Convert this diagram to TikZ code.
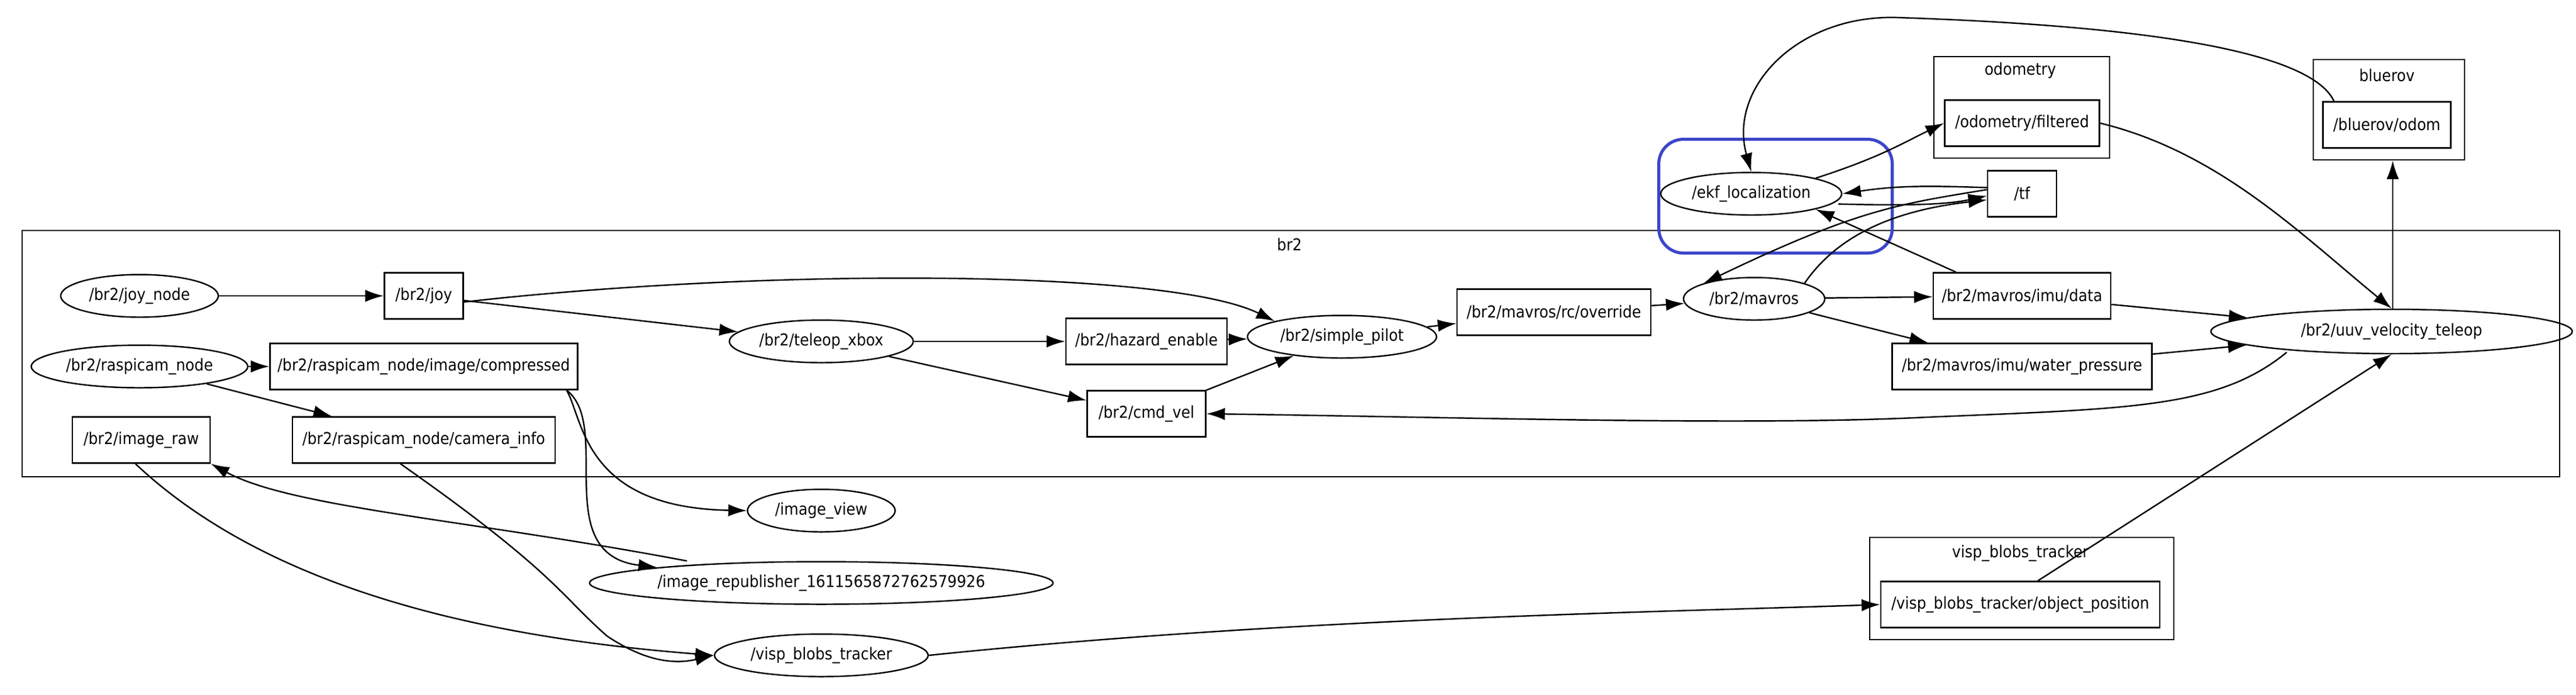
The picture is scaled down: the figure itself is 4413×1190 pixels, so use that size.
\documentclass[tikz,border=0pt]{standalone}
\usepackage{fontspec}
\setmainfont{DejaVu Sans Condensed}
\usetikzlibrary{arrows.meta,shapes.geometric}
\definecolor{ekfblue}{RGB}{60,70,200}
\begin{document}
\begin{tikzpicture}[x=0.01cm,y=-0.01cm,
  every node/.style={font=\fontsize{8}{10}\selectfont,inner sep=0pt},
  sz/.style args={#1x#2}{minimum width=#1*0.01cm,minimum height=#2*0.01cm},
  el/.style={draw,ellipse,line width=0.7pt},
  bx/.style={draw,rectangle,line width=0.7pt},
  cl/.style={draw,rectangle,line width=0.6pt},
  ar/.style={-{Latex[length=9pt,width=6pt]},line width=0.7pt}]
\useasboundingbox (0,0) rectangle (4413,1190);
% clusters
\node[cl,sz=4347x422,anchor=north west] (cbr2) at (37,394) {};
\node (lbr2) at (2209,419) {br2};
\node[cl,sz=521x175,anchor=north west] (cvisp) at (3202,920) {};
\node (lvisp) at (3461,948) {visp\_blobs\_tracker};
\node[cl,sz=301x174,anchor=north west] (codom) at (3312,96) {};
\node (lodom) at (3461,121) {odometry};
\node[cl,sz=259x172,anchor=north west] (cblue) at (3962,101) {};
\node (lblue) at (4089,129) {bluerov};
\node[draw=ekfblue,line width=1.5pt,rounded corners=12pt,sz=400x195,anchor=north west] (cekf) at (2839,236) {};
% nodes
\node[el,sz=270x73] (joynode) at (239,507) {/br2/joy\_node};
\node[bx,sz=135x79] (joy) at (726,507) {/br2/joy};
\node[el,sz=315x73] (teleop) at (1407,585) {/br2/teleop\_xbox};
\node[bx,sz=276x79] (hazard) at (1964,585) {/br2/hazard\_enable};
\node[el,sz=324x73] (pilot) at (2299,577) {/br2/simple\_pilot};
\node[bx,sz=332x79] (rc) at (2662,535) {/br2/mavros/rc/override};
\node[el,sz=242x73] (mavros) at (3005,512) {/br2/mavros};
\node[bx,sz=304x79] (imu) at (3464,507) {/br2/mavros/imu/data};
\node[bx,sz=445x79] (water) at (3464,628) {/br2/mavros/imu/water\_pressure};
\node[el,sz=619x76] (uuv) at (4097,568) {/br2/uuv\_velocity\_teleop};
\node[bx,sz=203x79] (cmd) at (1964,709) {/br2/cmd\_vel};
\node[el,sz=371x73] (rasp) at (239,628) {/br2/raspicam\_node};
\node[bx,sz=527x79] (comp) at (726,628) {/br2/raspicam\_node/image/compressed};
\node[bx,sz=236x79] (raw) at (242,754) {/br2/image\_raw};
\node[bx,sz=450x79] (cam) at (726,754) {/br2/raspicam\_node/camera\_info};
\node[el,sz=253x73] (view) at (1407,875) {/image\_view};
\node[el,sz=765x73] (repub) at (1407,999) {/image\_republisher\_1611565872762579926};
\node[el,sz=366x73] (visp) at (1407,1123) {/visp\_blobs\_tracker};
\node[bx,sz=478x79] (objpos) at (3461,1036) {/visp\_blobs\_tracker/object\_position};
\node[el,sz=310x73] (ekf) at (3000,332) {/ekf\_localization};
\node[bx,sz=118x79] (tf) at (3464,332) {/tf};
\node[bx,sz=265x79] (odomf) at (3464,211) {/odometry/filtered};
\node[bx,sz=219x79] (bodom) at (4089,214) {/bluerov/odom};
\coordinate (uuvtop) at (4099,531);
% edges
\draw[ar] (joynode) -- (joy);
\draw[ar] ([yshift=-3pt]joy.east) .. controls (1300,460) and (2000,460) .. (pilot.north west);
\draw[ar] (joy) -- (teleop);
\draw[ar] (teleop) -- (hazard);
\draw[ar] (teleop) -- (cmd);
\draw[ar] (hazard) -- (pilot);
\draw[ar] (cmd) -- (pilot);
\draw[ar] (pilot) -- (rc);
\draw[ar] (rc) -- (mavros);
\draw[ar] (mavros) -- (imu);
\draw[ar] (mavros) -- (water);
\draw[ar] (imu) -- (uuv);
\draw[ar] (water) -- (uuv);
\draw[ar] ([xshift=0.4cm]imu.north west) -- (ekf.south east);
\draw[ar] (mavros.north east) .. controls (3150,400) and (3250,360) .. ([yshift=-3pt]tf.west);
\draw[ar] ([yshift=2pt]tf.west) .. controls (3250,350) and (3180,360) .. (mavros.north west);
\draw[ar] ([yshift=3pt]tf.west) .. controls (3300,318) and (3250,318) .. (ekf.east);
\draw[ar] ([xshift=-2pt,yshift=-5pt]ekf.east) .. controls (3250,352) and (3330,352) .. ([yshift=-1pt]tf.west);
\draw[ar] (ekf.north east) .. controls (3220,270) and (3260,245) .. (odomf.west);
\draw[ar] (odomf.east) .. controls (3800,260) and (3940,400) .. (uuv.north);
\draw[ar] ([xshift=0.2cm]bodom.north west) .. controls (3950,70) and (3550,40) .. (3250,30) .. controls (3080,25) and (2960,150) .. (ekf.north);
\draw[ar] (uuvtop) -- (uuvtop |- cblue.south);
\draw[ar] ([xshift=0.4cm,yshift=-0.08cm]uuv.south west) .. controls (3800,700) and (3650,700) .. (3300,715) .. controls (3000,730) and (2500,715) .. (cmd.east);
\draw[ar] ([xshift=0.3cm]objpos.north) -- (uuv.south);
\draw[ar] (visp.east) .. controls (2200,1060) and (2800,1050) .. (objpos.west);
\draw[ar] (rasp) -- (comp);
\draw[ar] (rasp) -- (cam);
\draw[ar] ([xshift=-0.2cm]comp.south east) .. controls (1000,720) and (1000,870) .. (view.west);
\draw[ar] ([xshift=-0.2cm]comp.south east) .. controls (1050,730) and (940,950) .. (repub.north west);
\draw[ar] ([xshift=-2.3cm]repub.north) .. controls (800,890) and (500,870) .. (raw.south east);
\draw[ar] ([xshift=-0.1cm]raw.south) .. controls (450,1000) and (800,1090) .. (visp.west);
\draw[ar] ([xshift=-0.4cm]cam.south) .. controls (950,980) and (960,1020) .. (1040,1090) .. controls (1100,1130) and (1150,1140) .. (visp.west);
\end{tikzpicture}
\end{document}
